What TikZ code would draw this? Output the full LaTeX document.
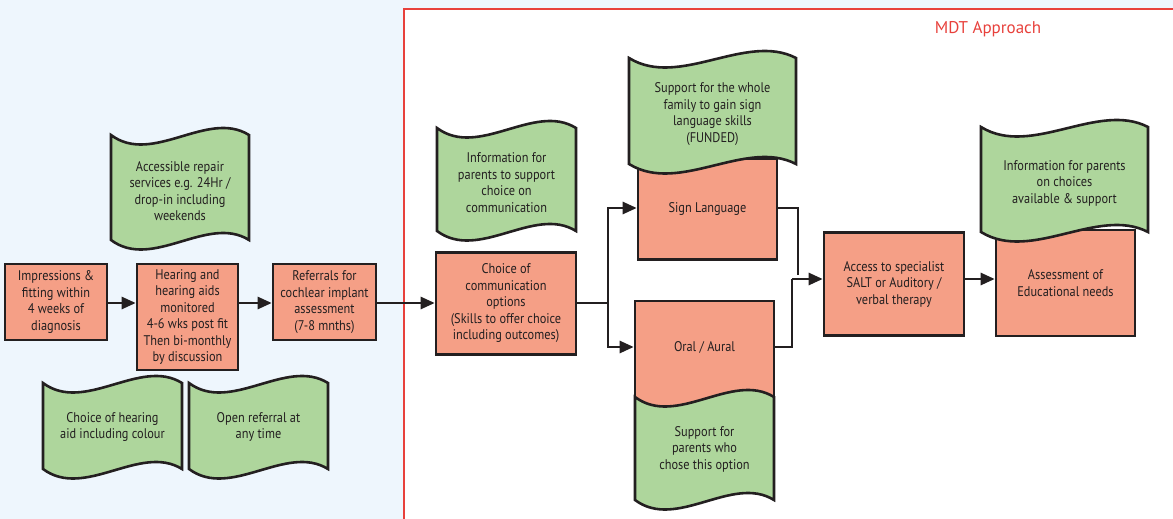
\documentclass[tikz,border=0pt]{standalone}
\usepackage{fontspec}
\setmainfont[FakeStretch=0.88]{PT Sans}
\newfontfamily\titlefont{PT Sans}
\usetikzlibrary{arrows.meta,calc}

\definecolor{ink}{HTML}{231F20}
\definecolor{salmon}{HTML}{F59F86}
\definecolor{leaf}{HTML}{AED69C}
\definecolor{paleblue}{HTML}{EEF6FD}
\definecolor{mdtred}{HTML}{E8413C}

\newcommand\boxfont{\fontsize{14}{16.5}\selectfont}

\tikzset{
  box/.style={draw=ink, fill=salmon, line width=2.6pt, inner sep=0pt,
              align=center, text=ink, font=\boxfont},
  flag/.style={draw=ink, fill=leaf, line width=2.6pt, line join=miter},
  txt/.style={align=center, text=ink, font=\boxfont, inner sep=0pt},
  conn/.style={draw=ink, line width=2.6pt},
  arrow/.style={conn, -{Triangle[length=14pt,width=12pt]}},
}

% wavy "tape" outline between the top-left and bottom-right corners
\newcommand\flagshape[4]{%
  \pgfmathsetmacro\fw{#3-#1}\pgfmathsetmacro\fh{#4-#2}%
  \path[flag, shift={(#1,#2)}]
    (0,0) .. controls (0.3*\fw,31) and (0.7*\fw,-26) .. (\fw,0)
    -- (\fw,\fh) .. controls (0.7*\fw,\fh-26) and (0.3*\fw,\fh+31) .. (0,\fh)
    -- cycle;}

\begin{document}
\begin{tikzpicture}[x=1pt, y=-1pt]
  \useasboundingbox (0,0) rectangle (1173,519);
  \clip (0,0) rectangle (1173,519);

  % backgrounds
  \fill[paleblue] (0,0) rectangle (1173,519);
  \draw[mdtred, line width=2pt, fill=white] (404,9) rectangle (1190,540);
  \node[text=mdtred, font=\titlefont\fontsize{17}{20}\selectfont] (mdt) at (988,29) {MDT Approach};

  % process boxes
  \node[box, minimum width=102, minimum height=76] (b1) at (56,302)
    {Impressions \&\\fitting within\\4 weeks of\\diagnosis};
  \node[box, minimum width=101, minimum height=106] (b2) at (187.5,317)
    {Hearing and\\hearing aids\\monitored\\4-6 wks post fit\\Then bi-monthly\\by discussion};
  \node[box, minimum width=103, minimum height=76] (b3) at (324.5,302)
    {Referrals for\\cochlear implant\\assessment\\(7-8 mnths)};
  \node[box, minimum width=140, minimum height=102] (choice) at (506,303.5)
    {Choice of\\communication\\options\\(Skills to offer choice\\including outcomes)};
  \node[box, minimum width=139, minimum height=101] (sign) at (707.5,209)
    {Sign Language};
  \node[box, minimum width=139, minimum height=109] (oral) at (704.5,355.5) {};
  \node[txt] (oraltext) at (704.5,347) {Oral / Aural};
  \node[box, minimum width=140, minimum height=103] (access) at (894,284)
    {Access to specialist\\SALT or Auditory /\\verbal therapy};
  \node[box, minimum width=139, minimum height=106] (assess) at (1065.5,283)
    {Assessment of\\Educational needs};

  % connector levels
  \coordinate (row) at (0,303);
  \coordinate (signrow) at (0,208);
  \coordinate (accrow) at (0,279);
  \coordinate (split) at (608,303);
  \coordinate (signend) at (798,275);
  \coordinate (oralturn) at (792,279);

  \draw[arrow] (b1.east |- row) -- (b2.west |- row);
  \draw[arrow] (b2.east |- row) -- (b3.west |- row);
  \draw[arrow] (b3.east |- row) -- (choice.west |- row);
  \draw[conn] (choice.east |- row) -- (split);
  \draw[arrow] (split) |- (sign.west |- signrow);
  \draw[arrow] (split) |- (oral.west |- oraltext);
  \draw[conn] (sign.east |- signrow) -| (signend);
  \draw[conn] (oral.east |- oraltext) -| (oralturn);
  \draw[arrow] (oralturn) -- (access.west |- accrow);
  \draw[arrow] (access.east |- accrow) -- (assess.west |- accrow);

  % support notes
  \flagshape{111}{135}{249}{240}
  \node[txt] (g1) at (180,191) {Accessible repair\\services e.g. 24Hr /\\drop-in including\\weekends};
  \flagshape{43}{383}{182}{469}
  \node[txt] (g2) at (112.5,427) {Choice of hearing\\aid including colour};
  \flagshape{189}{383}{328}{469}
  \node[txt] (g3) at (258.5,427) {Open referral at\\any time};
  \flagshape{437}{128}{576}{231}
  \node[txt] (g4) at (506.5,182.5) {Information for\\parents to support\\choice on\\communication};
  \flagshape{629}{58}{796}{164}
  \node[txt] (g5) at (712.5,114) {Support for the whole\\family to gain sign\\language skills\\(FUNDED)};
  \flagshape{635}{397}{774}{500}
  \node[txt] (g6) at (704.5,449) {Support for\\parents who\\chose this option};
  \flagshape{981}{127}{1148}{232}
  \node[txt] (g7) at (1064.5,183) {Information for parents\\on choices\\available \& support};
\end{tikzpicture}
\end{document}
